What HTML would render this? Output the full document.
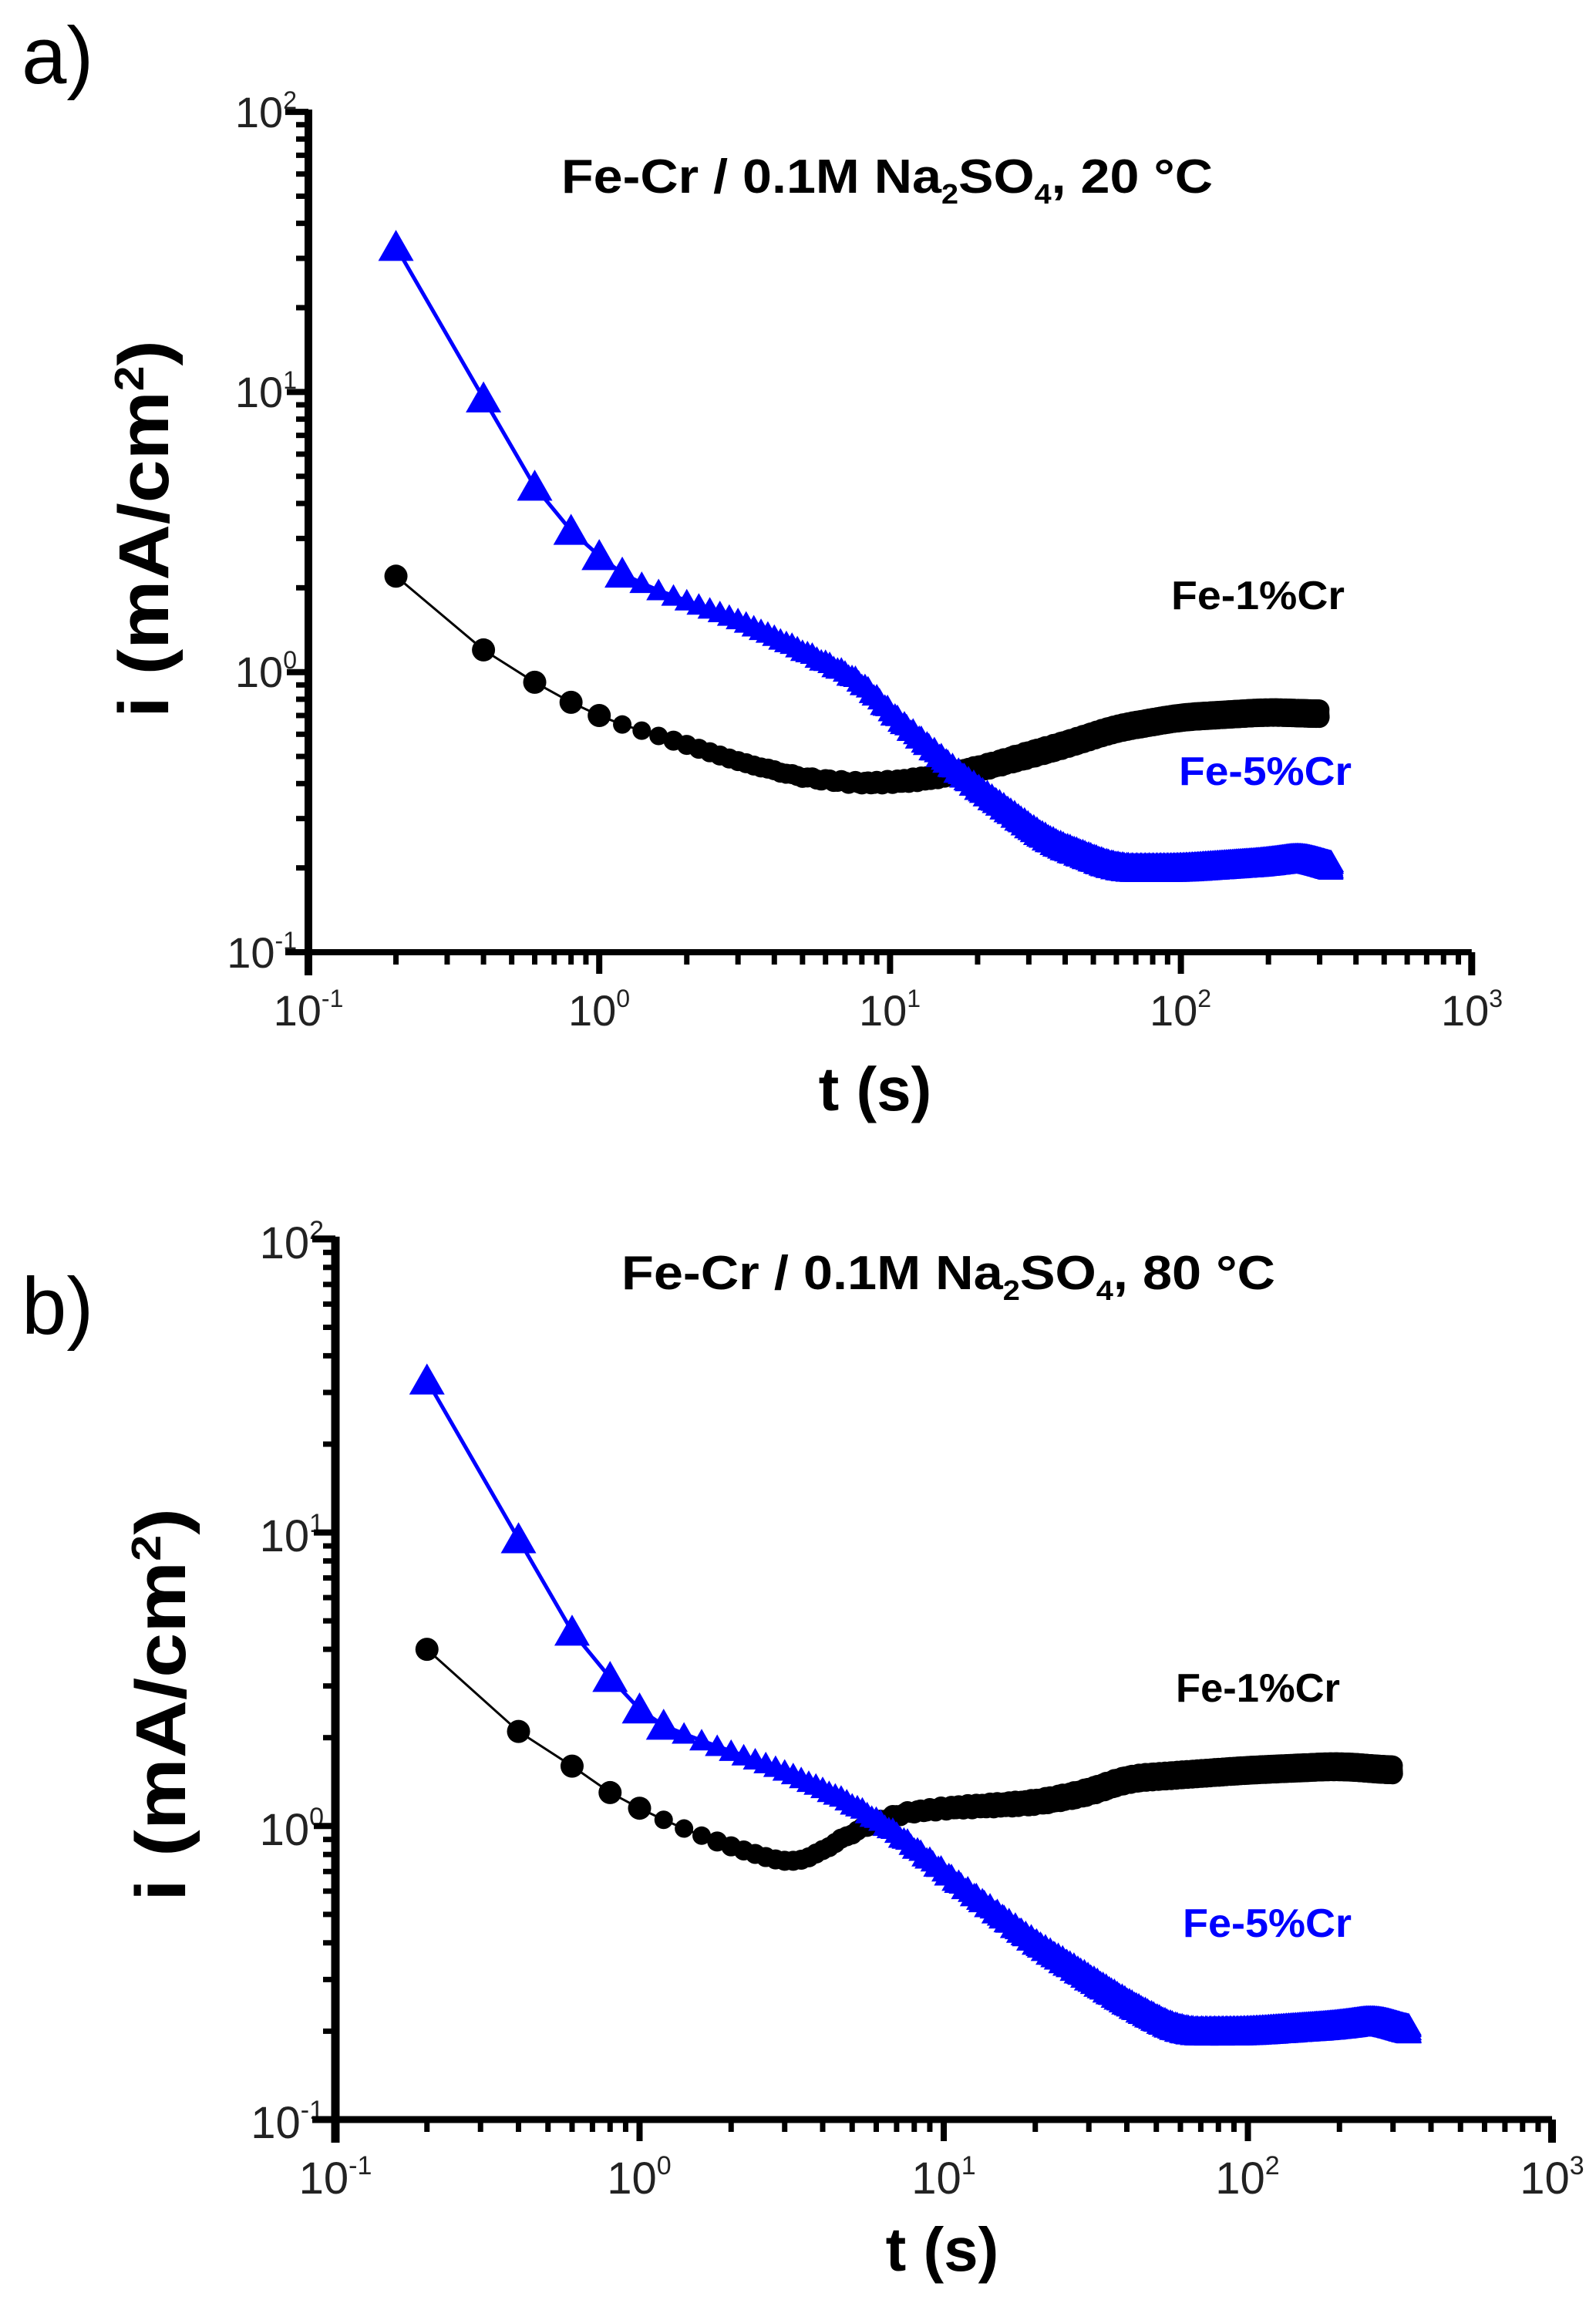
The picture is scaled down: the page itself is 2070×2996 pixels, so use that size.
<!DOCTYPE html>
<html><head><meta charset="utf-8"><style>
html,body{margin:0;padding:0;background:#fff;}
svg{display:block;}
.t{font-family:"Liberation Sans Narrow","Liberation Sans",sans-serif;font-weight:bold;}
.n{font-family:"Liberation Sans",sans-serif;}
</style></head><body>
<svg id="s" width="2070" height="2996" viewBox="0 0 2070 2996" xmlns="http://www.w3.org/2000/svg">
<rect width="2070" height="2996" fill="#fff"/>
<text class="n" x="28" y="108" font-size="105">a)</text>
<text class="t" x="728" y="250" font-size="62" textLength="845" lengthAdjust="spacingAndGlyphs">Fe-Cr / 0.1M Na<tspan dy="14" font-size="36">2</tspan><tspan dy="-14">SO</tspan><tspan dy="14" font-size="36">4</tspan><tspan dy="-14">, 20 °C</tspan></text>
<text class="t" transform="translate(218,686) rotate(-90)" text-anchor="middle" font-size="92" textLength="490" lengthAdjust="spacingAndGlyphs">i (mA/cm<tspan dy="-32" font-size="54">2</tspan><tspan dy="32">)</tspan></text>
<text class="t" x="1135" y="1440" text-anchor="middle" font-size="80">t (s)</text>
<text class="t" x="1519" y="790" font-size="52" textLength="225" lengthAdjust="spacingAndGlyphs">Fe-1%Cr</text>
<text class="t" x="1529" y="1018" font-size="52" fill="#0000ff" textLength="224" lengthAdjust="spacingAndGlyphs">Fe-5%Cr</text>
<text class="n" x="28" y="1730" font-size="105">b)</text>
<text class="t" x="806" y="1672" font-size="62" textLength="848" lengthAdjust="spacingAndGlyphs">Fe-Cr / 0.1M Na<tspan dy="14" font-size="36">2</tspan><tspan dy="-14">SO</tspan><tspan dy="14" font-size="36">4</tspan><tspan dy="-14">, 80 °C</tspan></text>
<text class="t" transform="translate(240,2211) rotate(-90)" text-anchor="middle" font-size="92" textLength="510" lengthAdjust="spacingAndGlyphs">i (mA/cm<tspan dy="-32" font-size="54">2</tspan><tspan dy="32">)</tspan></text>
<text class="t" x="1222" y="2945" text-anchor="middle" font-size="80">t (s)</text>
<text class="t" x="1525" y="2207" font-size="52" textLength="213" lengthAdjust="spacingAndGlyphs">Fe-1%Cr</text>
<text class="t" x="1534" y="2512" font-size="52" fill="#0000ff" textLength="219" lengthAdjust="spacingAndGlyphs">Fe-5%Cr</text>
<g class="n" font-size="56" fill="#222">
<text x="385" y="165" text-anchor="end">10<tspan dy="-24" font-size="32">2</tspan></text>
<text x="385" y="528" text-anchor="end">10<tspan dy="-24" font-size="32">1</tspan></text>
<text x="385" y="891" text-anchor="end">10<tspan dy="-24" font-size="32">0</tspan></text>
<text x="385" y="1255" text-anchor="end">10<tspan dy="-24" font-size="32">-1</tspan></text>
<text x="400" y="1330" text-anchor="middle">10<tspan dy="-24" font-size="32">-1</tspan></text>
<text x="777" y="1330" text-anchor="middle">10<tspan dy="-24" font-size="32">0</tspan></text>
<text x="1154" y="1330" text-anchor="middle">10<tspan dy="-24" font-size="32">1</tspan></text>
<text x="1531" y="1330" text-anchor="middle">10<tspan dy="-24" font-size="32">2</tspan></text>
<text x="1909" y="1330" text-anchor="middle">10<tspan dy="-24" font-size="32">3</tspan></text>
</g>
<g class="n" font-size="58" fill="#222">
<text x="420" y="1632" text-anchor="end">10<tspan dy="-25" font-size="34">2</tspan></text>
<text x="420" y="2012" text-anchor="end">10<tspan dy="-25" font-size="34">1</tspan></text>
<text x="420" y="2393" text-anchor="end">10<tspan dy="-25" font-size="34">0</tspan></text>
<text x="420" y="2773" text-anchor="end">10<tspan dy="-25" font-size="34">-1</tspan></text>
<text x="435" y="2845" text-anchor="middle">10<tspan dy="-25" font-size="34">-1</tspan></text>
<text x="829" y="2845" text-anchor="middle">10<tspan dy="-25" font-size="34">0</tspan></text>
<text x="1224" y="2845" text-anchor="middle">10<tspan dy="-25" font-size="34">1</tspan></text>
<text x="1618" y="2845" text-anchor="middle">10<tspan dy="-25" font-size="34">2</tspan></text>
<text x="2013" y="2845" text-anchor="middle">10<tspan dy="-25" font-size="34">3</tspan></text>
</g>
<g id="plots"></g>
</svg>
<script>
(function(){
var NS="http://www.w3.org/2000/svg",G=document.getElementById("plots");
function el(n,a){var e=document.createElementNS(NS,n);for(var k in a)e.setAttribute(k,a[k]);G.appendChild(e);return e;}
function lin(pts,lt){
 if(lt<=Math.log10(pts[0][0]))return Math.log10(pts[0][1]);
 for(var i=1;i<pts.length;i++){var b=Math.log10(pts[i][0]);if(lt<=b){var a=Math.log10(pts[i-1][0]);var f=(lt-a)/(b-a);return Math.log10(pts[i-1][1])*(1-f)+Math.log10(pts[i][1])*f;}}
 return Math.log10(pts[pts.length-1][1]);}
function interp(pts,t){var lt=Math.log10(t);
 if(t<1.3) return Math.pow(10,lin(pts,lt));
 var s=0,n=0;for(var j=-5;j<=5;j++){s+=lin(pts,lt+j*0.012);n++;}
 return Math.pow(10,s/n);}
function panel(P,blue,black,tb,tk){
 var X=function(t){return P.x0+(Math.log10(t)+1)*P.dx;},Y=function(v){return P.y0-(Math.log10(v)+1)*P.dy;};
 el("line",{x1:P.x0,y1:P.y0,x2:P.x0+4*P.dx,y2:P.y0,stroke:"#000","stroke-width":P.w});
 el("line",{x1:P.x0,y1:P.y0+30,x2:P.x0,y2:P.y0-3*P.dy-3,stroke:"#000","stroke-width":P.w+2});
 el("line",{x1:P.x0-30,y1:P.y0-3*P.dy,x2:P.x0,y2:P.y0-3*P.dy,stroke:"#000","stroke-width":P.w});
 el("line",{x1:P.x0-30,y1:P.y0,x2:P.x0,y2:P.y0,stroke:"#000","stroke-width":P.w});
 el("line",{x1:P.x0+4*P.dx,y1:P.y0,x2:P.x0+4*P.dx,y2:P.y0+30,stroke:"#000","stroke-width":P.w+1});
 for(var d=-1;d<3;d++){for(var m=1;m<=9;m++){var lv=d+Math.log10(m);
   var xx=P.x0+(lv+1)*P.dx,big=(m==1);
   if(!(d==-1&&m==1)) el("line",{x1:xx,y1:P.y0,x2:xx,y2:P.y0+(big?28:16),stroke:"#000","stroke-width":big?8:7});
   if(d<2){var yy=P.y0-(lv+1)*P.dy; if(!(d==-1&&m==1)) el("line",{x1:P.x0-(big?28:16),y1:yy,x2:P.x0,y2:yy,stroke:"#000","stroke-width":big?8:7});}
 }}
 function series(pts,tmax,col,tri,lw){
  var d="";for(var k=1;k*0.2<=tmax+1e-9;k++){var t=k*0.2;d+=(k==1?"M":"L")+X(t).toFixed(1)+" "+Y(interp(pts,t)).toFixed(1);}
  el("path",{d:d,fill:"none",stroke:col,"stroke-width":lw});
  for(var k=1;k*0.2<=tmax+1e-9;k++){var t=k*0.2,x=X(t);
   var amp=t>3?0.035*Math.min(1,Math.log10(t/3)):0;
   var y=Y(interp(pts,t)*(1+amp*Math.sin(k*1.7)));
   if(tri){var s=k<=6?23:16;el("polygon",{points:(x-s)+","+(y+s*0.8)+" "+(x+s)+","+(y+s*0.8)+" "+x+","+(y-s*0.95),fill:col});}
   else{var r=k<=5?15:(k<=8?12:13);el("circle",{cx:x,cy:y,r:r,fill:col});}
  }
 }
 series(black,tk,"#000",false,3);
 series(blue,tb,"#0000ff",true,5);
}
panel({x0:400,y0:1235,dx:377.2,dy:363.3,w:8},
 [[0.2,33],[0.4,9.5],[0.6,4.6],[0.8,3.2],[1,2.6],[1.2,2.25],[1.5,2.0],[2,1.8],[3,1.55],[5,1.2],[8,0.93],[10,0.72],[18,0.42],[35,0.25],[60,0.2],[100,0.2],[200,0.21],[270,0.22],[330,0.2]],
 [[0.2,2.2],[0.4,1.2],[0.6,0.92],[0.8,0.78],[1,0.7],[1.2,0.65],[2,0.55],[3,0.48],[5,0.42],[8,0.4],[12,0.41],[20,0.45],[40,0.55],[60,0.63],[100,0.69],[200,0.72],[300,0.71]],
 330,300);
panel({x0:435,y0:2749,dx:394.5,dy:380.7,w:9},
 [[0.2,33],[0.4,9.5],[0.6,4.6],[0.8,3.2],[1,2.5],[1.2,2.2],[1.5,2.0],[2,1.8],[3,1.55],[5,1.2],[7,0.95],[10,0.7],[20,0.4],[40,0.25],[60,0.2],[100,0.2],[200,0.21],[270,0.22],[340,0.2]],
 [[0.2,4.0],[0.4,2.1],[0.6,1.6],[0.8,1.3],[1,1.15],[1.2,1.05],[1.5,0.95],[2,0.85],[3,0.75],[3.5,0.76],[5,0.95],[7,1.1],[10,1.15],[20,1.2],[30,1.3],[40,1.45],[100,1.55],[200,1.6],[300,1.55]],
 340,300);
})();
</script>
</body></html>
